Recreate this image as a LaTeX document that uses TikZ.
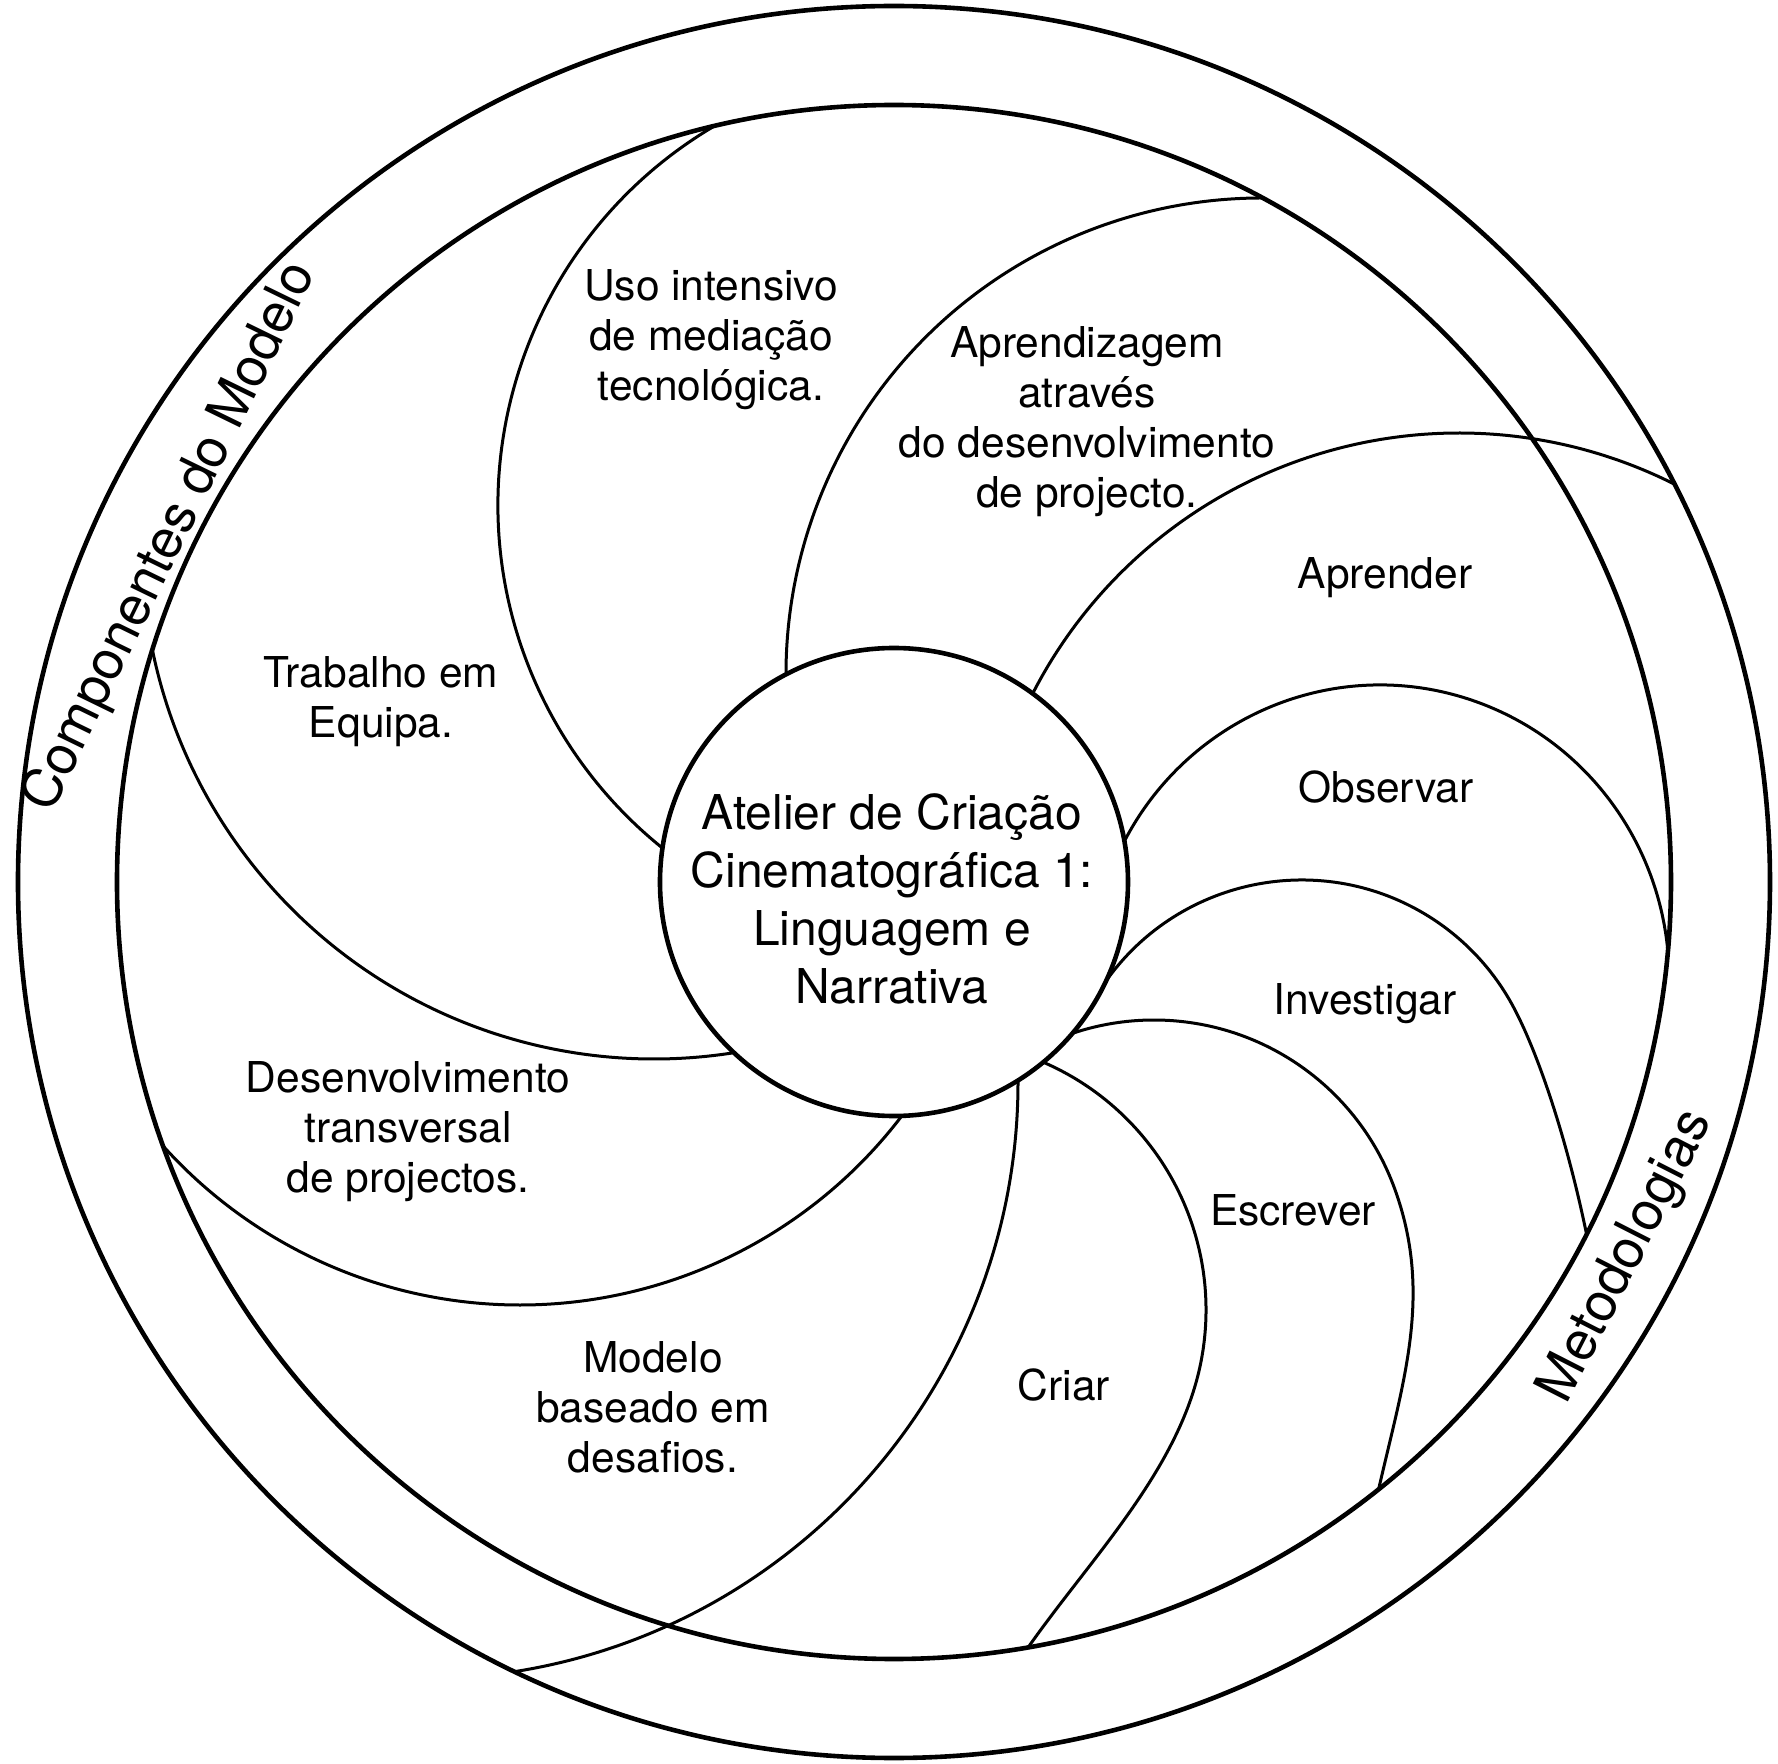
\documentclass[tikz,border=0pt]{standalone}
\usepackage{fontspec}
\setmainfont{TeX Gyre Heros}
\begin{document}
\begin{tikzpicture}[x=1pt,y=1pt,
  ring/.style={line width=4.6pt},
  sweep/.style={line width=3pt},
  lbl/.style={font=\fontsize{42.5}{50}\selectfont, align=center, inner sep=0pt},
  side/.style={font=\fontsize{54}{60}\selectfont, inner sep=0pt},
  corecircle/.style={circle, draw, fill=white, line width=4.6pt, minimum size=468pt, inner sep=0pt},
  corelbl/.style={font=\fontsize{48}{58}\selectfont, align=center, inner sep=0pt}]
\useasboundingbox (-894,-882) rectangle (884,882);
\fill[white] (-894,-882) rectangle (884,882);

% curves ending on the inner ring
\begin{scope}
\clip (0,0) circle[radius=777pt];
% A
\draw[sweep] (44,377) ++(117:440pt) arc[start angle=117, end angle=233, radius=440pt];
% B
\draw[sweep] (368,208) ++(84:476pt) arc[start angle=84, end angle=186, radius=476pt];
% D
\draw[sweep] (486,-96) ++(160:289pt and 293pt) arc[start angle=160, end angle=-15, x radius=289pt, y radius=293pt];
% E
\draw[sweep] (407.7,-238) ++(148:240pt) arc[start angle=148, end angle=30, radius=240pt]
  .. controls (640.5,-161.3) and (670.2,-246.9) .. (691,-344.7) -- (697.2,-374);
% F
\draw[sweep] (260,-394) ++(115:256pt) arc[start angle=115, end angle=20, radius=256pt]
  .. controls (538.2,-409.8) and (510.8,-494.2) .. (486,-601.3) -- (479,-631);
% G
\draw[sweep] (42,-428) ++(72:270pt) arc[start angle=72, end angle=-10, radius=270pt]
  .. controls (288.8,-583.3) and (199.9,-672.4) .. (136.4,-762.2) -- (124.9,-778.5);
% I
\draw[sweep] (-374,57) ++(-30:480pt) arc[start angle=-30, end angle=-145, radius=480pt];
% J
\draw[sweep] (-240,335) ++(188:512pt) arc[start angle=188, end angle=285, radius=512pt];
\end{scope}

% curves ending on the outer ring
\begin{scope}
\clip (0,0) circle[radius=876pt];
% C
\draw[sweep] (565,-30) ++(158:479pt) arc[start angle=158, end angle=58, radius=479pt];
% H
\draw[sweep] (-473,-200) ++(3:597pt) arc[start angle=3, end angle=-84, radius=597pt];
\end{scope}

\draw[ring] (0,0) circle[radius=777pt];
\draw[ring] (0,0) circle[radius=876pt];

\node[corecircle] (core) at (0,0) {};
\node[corelbl] (coretext) at (-2,-17) {Atelier de Criação\\Cinematográfica 1:\\Linguagem e\\Narrativa};

\node[lbl] (uso) at (-183,542) {Uso intensivo\\de mediação\\tecnológica.};
\node[lbl] (aprendizagem) at (193,460) {Aprendizagem\\através\\do desenvolvimento\\de projecto.};
\node[lbl] (aprender) at (491,304) {Aprender};
\node[lbl] (observar) at (492,95) {Observar};
\node[lbl] (investigar) at (471,-122) {Investigar};
\node[lbl] (escrever) at (399,-328) {Escrever};
\node[lbl] (criar) at (170,-503) {Criar};
\node[lbl] (modelo) at (-241,-525) {Modelo\\baseado em\\desafios.};
\node[lbl] (desenv) at (-486,-250) {Desenvolvimento\\transversal\\de projectos.};
\node[lbl] (trabalho) at (-513,180) {Trabalho em\\Equipa.};

\node[side, rotate=64] (componentes) at (-723,345) {Componentes do Modelo};
\node[side, rotate=63] (metodologias) at (733,-375) {Metodologias};
\end{tikzpicture}
\end{document}
